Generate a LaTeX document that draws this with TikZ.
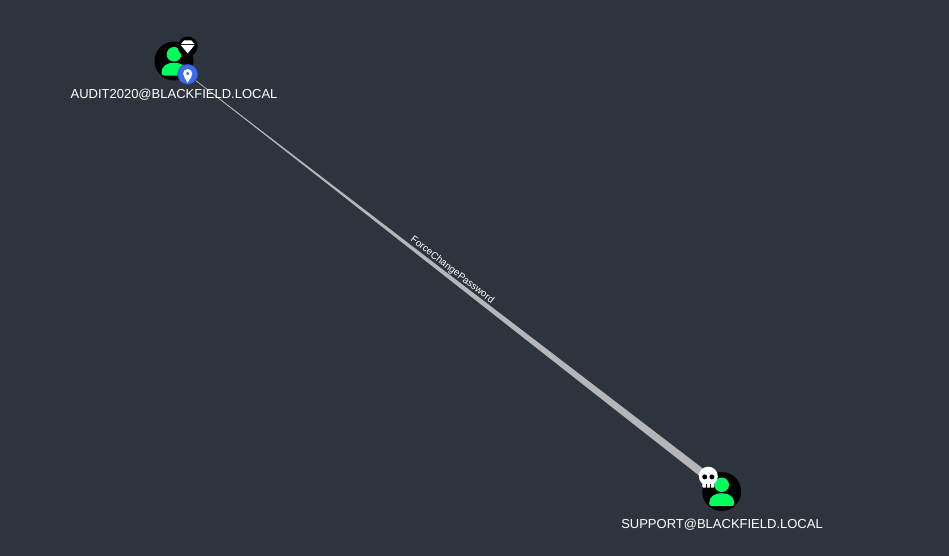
\documentclass[tikz,border=0pt]{standalone}
\usepackage{fontspec}
\setmainfont{Liberation Sans}
\usepackage{tikz}
\usetikzlibrary{arrows.meta, positioning, backgrounds, calc}
\definecolor{pagebg}{HTML}{2E343D}
\definecolor{usergreen}{HTML}{00FF5E}
\definecolor{pinblue}{HTML}{3D6BEF}
\definecolor{edgegrey}{HTML}{B4B6BA}
\tikzstyle{usernode} = [circle, fill=black, minimum size=39pt, inner sep=0pt]
\tikzstyle{badge} = [circle, fill=black, minimum size=20pt, inner sep=0pt]
\tikzstyle{userlabel} = [text=white, font=\fontsize{13}{16}\selectfont, inner sep=0pt]
\tikzstyle{edgelabel} = [text=white, font=\fontsize{9.8}{12}\selectfont, inner sep=2.2pt]
\tikzset{
  usericon/.pic={
    \fill[usergreen] (0,-6.7) circle (7.3);
    \fill[usergreen] (-12.5,11.7) .. controls (-12.5,5) and (-7,1.7) .. (0,1.7) .. controls (7,1.7) and (12.5,5) .. (12.5,11.7) .. controls (12.5,13.7) and (11.5,14.7) .. (9.5,14.7) -- (-9.5,14.7) .. controls (-11.5,14.7) and (-12.5,13.7) .. (-12.5,11.7) -- cycle;
  },
  gemicon/.pic={
    \fill[white] (-3.7,-6) -- (3.7,-6) -- (6.9,-2.4) -- (-6.9,-2.4) -- cycle;
    \fill[white] (-6.9,-1.4) -- (6.9,-1.4) -- (0,6.9) -- cycle;
  },
  pinicon/.pic={
    \fill[white, even odd rule] (0,8.5) .. controls (-2,4.5) and (-4.6,2.5) .. (-4.6,-0.7) arc (180:360:4.6) .. controls (4.6,2.5) and (2,4.5) .. (0,8.5) -- cycle (0,-0.7) circle (1.9);
  },
  skullicon/.pic={
    \fill[white] (0,-1.5) circle (9.5);
    \fill[white, rounded corners=1pt] (-6,2) rectangle (6,10);
    \fill[black] (-3.6,-0.8) circle (2.5);
    \fill[black] (3.6,-0.8) circle (2.5);
    \draw[black, line width=0.8pt] (-2,6.5) -- (-2,10) (2,6.5) -- (2,10);
  }
}

\begin{document}
\begin{tikzpicture}[x=1pt, y=-1pt]
  \useasboundingbox (0,0) rectangle (949,556);

  \node[usernode] (audit) at (174,61) {};
  \node[usernode] (support) at (721.7,491.5) {};
  \pic at (audit) {usericon};
  \pic at (support) {usericon};

  \node[badge] (gem) at (187.7,46.5) {};
  \pic at (gem) {gemicon};
  \node[badge, fill=pinblue, draw=pinblue!70!black, line width=0.6pt] (pin) at (187.7,74.3) {};
  \pic at (pin) {pinicon};
  \node[circle, minimum size=21pt, inner sep=0pt] (skull) at (708.3,477.7) {};
  \pic at (skull) {skullicon};

  \node[userlabel] (auditlabel) at (174,95) {AUDIT2020@BLACKFIELD.LOCAL};
  \node[userlabel] (supportlabel) at (722,525) {SUPPORT@BLACKFIELD.LOCAL};

  \begin{pgfonlayer}{background}
    \fill[pagebg] (0,0) rectangle (949,556);
    \fill[edgegrey] (pin.center) -- ($(skull.center)!4pt!90:(pin.center)$) -- ($(skull.center)!4pt!-90:(pin.center)$) -- cycle;
    \draw[edgegrey, line width=0.6pt] (pin) -- node[edgelabel, sloped, above, pos=0.5] {ForceChangePassword} (skull);
  \end{pgfonlayer}
\end{tikzpicture}
\end{document}
